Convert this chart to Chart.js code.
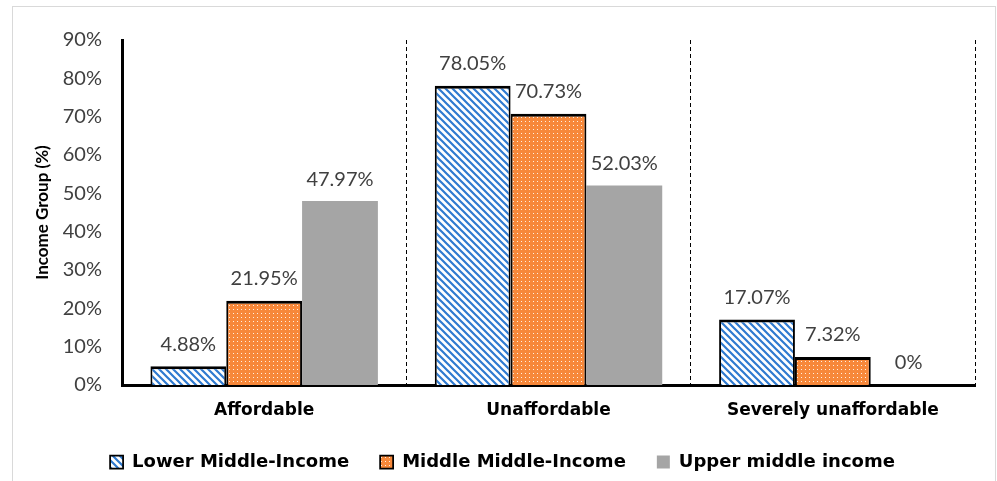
<!DOCTYPE html>
<html>
<head>
<meta charset="utf-8">
<script src="https://cdn.jsdelivr.net/npm/chart.js@4.4.1/dist/chart.umd.min.js"></script>
<style>
  html, body { margin: 0; padding: 0; background: #fff; }
  #wrap { position: relative; width: 997px; height: 481px; }
</style>
</head>
<body>
<div id="wrap"><canvas id="affordability_chart" width="997" height="481"></canvas></div>
<script>
var categories = ['Affordable', 'Unaffordable', 'Severely unaffordable'];
var lower_middle = [4.88, 78.05, 17.07];
var middle_middle = [21.95, 70.73, 7.32];
var upper_middle = [47.97, 52.03, 0];
var series_names = ['Lower Middle-Income', 'Middle Middle-Income', 'Upper middle income'];
var y_ticks = [0, 10, 20, 30, 40, 50, 60, 70, 80, 90];

/*
 * Build the hatch fills used by the first two series
 */
function stripePattern(){
    const c = document.createElement('canvas');
    c.width = 7; c.height = 7;
    const g = c.getContext('2d');
    g.fillStyle = '#ffffff';
    g.fillRect(0, 0, 7, 7);
    g.strokeStyle = '#2f7ad0';
    g.lineWidth = 2.2;
    g.beginPath();
    g.moveTo(-2, -2); g.lineTo(9, 9);
    g.moveTo(-6, 1); g.lineTo(1, 8);
    g.moveTo(6, -1); g.lineTo(13, 6);
    g.stroke();
    return g.createPattern(c, 'repeat');
}

function dotPattern(){
    const c = document.createElement('canvas');
    c.width = 4; c.height = 4;
    const g = c.getContext('2d');
    g.fillStyle = '#f7883a';
    g.fillRect(0, 0, 4, 4);
    g.fillStyle = 'rgba(255,240,225,1)';
    g.fillRect(1, 1, 1, 1);
    return g.createPattern(c, 'repeat');
}

// values on top of the bars
const valueLabels = {
    id: 'valueLabels',
    afterDatasetsDraw(chart){
        const ctx = chart.ctx;
        ctx.save();
        ctx.font = '20px Lato';
        ctx.fillStyle = '#404040';
        ctx.textAlign = 'center';
        ctx.textBaseline = 'middle';
        chart.data.datasets.forEach(function(ds, i){
            const meta = chart.getDatasetMeta(i);
            meta.data.forEach(function(bar, j){
                ctx.fillText(ds.data[j] + '%', bar.x, bar.y - 22);
            });
        });
        ctx.restore();
    }
};

// light frame round the picture
const frame = {
    id: 'frame',
    beforeDraw(chart){
        const ctx = chart.ctx;
        ctx.save();
        ctx.strokeStyle = '#d9d9d9';
        ctx.lineWidth = 1;
        ctx.strokeRect(12.5, 6.5, 983, 500);
        ctx.restore();
    }
};

const data = {
    labels: categories,
    datasets: [{
        label: series_names[0],
        data: lower_middle,
        backgroundColor: stripePattern(),
        borderColor: '#000000',
        borderWidth: {top: 3, left: 2, right: 2, bottom: 0},
    }, {
        label: series_names[1],
        data: middle_middle,
        backgroundColor: dotPattern(),
        borderColor: '#000000',
        borderWidth: {top: 3, left: 2, right: 2, bottom: 0},
    }, {
        label: series_names[2],
        data: upper_middle,
        backgroundColor: '#a5a5a5',
        borderWidth: 0,
    }]
};

const config = {
    type: 'bar',
    data: data,
    options: {
        responsive: false,
        animation: false,
        layout: {
            padding: {left: 30, right: 22, top: 40, bottom: 0}
        },
        datasets: {
            bar: {categoryPercentage: 0.8, barPercentage: 1.0}
        },
        scales: {
            y: {
                min: 0,
                max: 90,
                afterBuildTicks: function(scale){
                    scale.ticks = y_ticks.map(function(v){ return {value: v}; });
                },
                afterFit: function(scale){ scale.width = 92; },
                grid: {display: false, drawTicks: false},
                border: {display: true, color: '#000000', width: 3},
                ticks: {
                    padding: 20,
                    color: '#404040',
                    font: {family: 'Lato', size: 20},
                    callback: function(v){ return v + '%'; }
                },
                title: {
                    display: true,
                    text: 'Income Group (%)',
                    color: '#000000',
                    padding: {top: 2, bottom: 0},
                    font: {family: 'Lato', size: 17, weight: 'bold'}
                }
            },
            x: {
                afterFit: function(scale){ scale.height = 37; },
                grid: {
                    display: true,
                    offset: true,
                    drawTicks: false,
                    color: '#000000',
                    lineWidth: 1
                },
                border: {display: true, color: '#000000', width: 3, dash: [4, 3]},
                ticks: {
                    padding: 15,
                    color: '#000000',
                    font: {family: 'DejaVu Sans', size: 17, weight: 'bold'}
                }
            }
        },
        plugins: {
            title: {display: false},
            tooltip: {enabled: false},
            legend: {
                display: true,
                position: 'bottom',
                labels: {
                    boxWidth: 13,
                    boxHeight: 13,
                    padding: 31,
                    color: '#000000',
                    font: {family: 'DejaVu Sans', size: 18, weight: 'bold'}
                }
            }
        }
    },
    plugins: [valueLabels, frame]
};

const myChart = new Chart(document.getElementById('affordability_chart'), config);
</script>
</body>
</html>
